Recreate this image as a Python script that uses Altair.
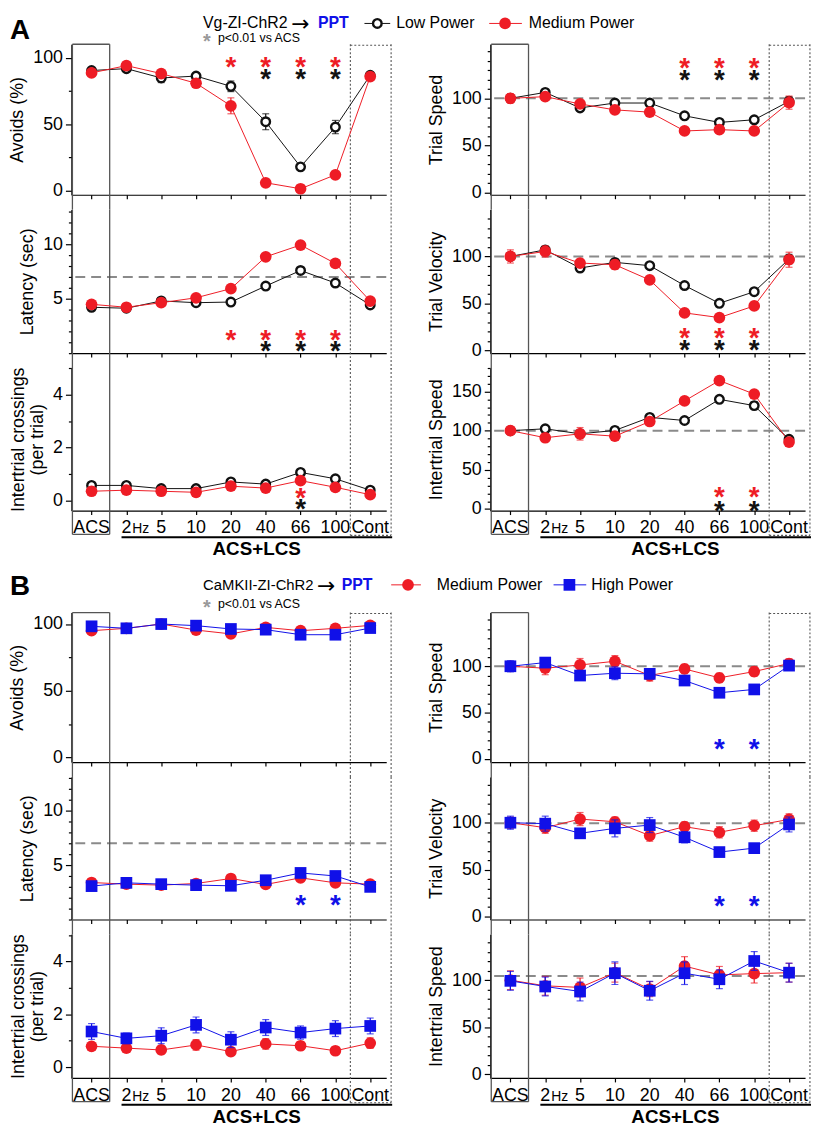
import json
import altair as alt
import pandas as pd

FONT = "Liberation Sans"
RED = "#ee1c25"
BLUE = "#1010e8"
BLACK = "#111111"
DASH_GRAY = "#8a8a8a"
BOX_GRAY = "#555555"

# ---------------- categories ----------------
CATS = ["ACS", "2Hz", "5", "10", "20", "40", "66", "100", "Cont"]
XLABELS = ["ACS", "2", "5", "10", "20", "40", "66", "100", "Cont"]
IDX = list(range(len(CATS)))

# ---------------- Panel A : Vg-ZI-ChR2 -> PPT ----------------
A_avoid_low = [90.6, 92.0, 85.0, 86.4, 78.7, 52.0, 18.0, 48.0, 87.0]
A_avoid_low_err = [2, 2, 3.5, 2, 4, 6, 1.5, 5, 2]
A_avoid_med = [88.8, 94.3, 88.3, 81.0, 64.0, 6.0, 1.5, 12.0, 86.0]
A_avoid_med_err = [2, 2, 2, 2, 6, 1.5, 1, 2, 2]

A_lat_low = [4.22, 4.13, 4.80, 4.64, 4.70, 6.17, 7.60, 6.45, 4.43]
A_lat_low_err = [0.2, 0.2, 0.2, 0.2, 0.2, 0.2, 0.25, 0.2, 0.2]
A_lat_med = [4.49, 4.22, 4.64, 5.09, 5.93, 8.86, 9.94, 8.25, 4.79]
A_lat_med_err = [0.3, 0.2, 0.2, 0.2, 0.2, 0.2, 0.2, 0.2, 0.3]

A_cross_low = [0.57, 0.57, 0.45, 0.45, 0.70, 0.62, 1.06, 0.82, 0.39]
A_cross_low_err = [0.08, 0.08, 0.08, 0.08, 0.08, 0.08, 0.1, 0.08, 0.08]
A_cross_med = [0.35, 0.39, 0.35, 0.31, 0.54, 0.47, 0.75, 0.50, 0.22]
A_cross_med_err = [0.08, 0.08, 0.08, 0.08, 0.08, 0.08, 0.1, 0.08, 0.08]

A_tspeed_low = [100, 106.3, 89.8, 95.0, 95.0, 81.4, 74.4, 77.2, 96.8]
A_tspeed_low_err = [3, 3, 2, 2, 2, 3, 2, 3, 5]
A_tspeed_med = [100, 101.8, 94.0, 87.7, 85.3, 65.3, 66.7, 65.3, 95.4]
A_tspeed_med_err = [5, 4, 3, 3, 2, 2, 2, 2, 7]

A_tvel_low = [100, 107.0, 87.7, 93.7, 90.2, 69.1, 50.2, 62.5, 97.2]
A_tvel_low_err = [3, 3, 3, 3, 2, 2, 3, 2, 5]
A_tvel_med = [100, 105.3, 93.0, 91.2, 75.0, 40.0, 35.0, 47.4, 96.5]
A_tvel_med_err = [7, 6, 4, 5, 3, 2, 2, 2, 8]

A_ispeed_low = [100, 102.4, 96.0, 100.3, 117.0, 113.0, 140.0, 132.0, 89.0]
A_ispeed_low_err = [2, 3, 5, 4, 4, 3, 3, 5, 3]
A_ispeed_med = [100, 91.0, 96.0, 93.0, 111.7, 138.0, 164.0, 146.7, 85.5]
A_ispeed_med_err = [3, 3, 8, 3, 3, 3, 3, 4, 3]

# significance asterisks (category index, height in data units)
A_avoid_star_med, A_avoid_star_med_y = [4, 5, 6, 7], 97
A_avoid_star_low, A_avoid_star_low_y = [5, 6, 7], 87.6
A_lat_star_med, A_lat_star_med_y = [4, 5, 6, 7], 1.63
A_lat_star_low, A_lat_star_low_y = [5, 6, 7], 0.6
A_cross_star_med, A_cross_star_med_y = [6], 0.29
A_cross_star_low, A_cross_star_low_y = [6], -0.15
A_tspeed_star_med, A_tspeed_star_med_y = [5, 6, 7], 137
A_tspeed_star_low, A_tspeed_star_low_y = [5, 6, 7], 124.6
A_tvel_star_med, A_tvel_star_med_y = [5, 6, 7], 18.2
A_tvel_star_low, A_tvel_star_low_y = [5, 6, 7], 5.3
A_ispeed_star_med, A_ispeed_star_med_y = [6, 7], 21
A_ispeed_star_low, A_ispeed_star_low_y = [6, 7], 4.2

# ---------------- Panel B : CaMKII-ZI-ChR2 -> PPT ----------------
B_avoid_med = [95.0, 96.8, 100.0, 95.5, 92.6, 97.5, 95.0, 96.8, 99.0]
B_avoid_med_err = [2, 2, 1, 2, 2, 2, 2, 2, 1]
B_avoid_high = [98.3, 96.8, 100.0, 98.8, 96.3, 95.8, 92.0, 92.0, 97.0]
B_avoid_high_err = [2, 2, 1, 2, 2, 2, 2, 2, 2]

B_lat_med = [3.40, 3.25, 3.16, 3.31, 3.77, 3.22, 3.83, 3.37, 3.25]
B_lat_med_err = [0.2, 0.2, 0.2, 0.2, 0.2, 0.2, 0.2, 0.2, 0.2]
B_lat_high = [3.07, 3.37, 3.25, 3.16, 3.10, 3.61, 4.28, 4.00, 3.00]
B_lat_high_err = [0.2, 0.2, 0.2, 0.2, 0.2, 0.2, 0.2, 0.2, 0.2]

B_cross_med = [0.79, 0.72, 0.65, 0.84, 0.59, 0.88, 0.81, 0.62, 0.91]
B_cross_med_err = [0.15, 0.15, 0.15, 0.2, 0.15, 0.2, 0.15, 0.1, 0.2]
B_cross_high = [1.35, 1.09, 1.19, 1.60, 1.04, 1.50, 1.31, 1.46, 1.56]
B_cross_high_err = [0.3, 0.2, 0.3, 0.3, 0.3, 0.3, 0.25, 0.3, 0.3]

B_tspeed_med = [100.0, 97.9, 101.4, 105.4, 90.0, 97.1, 87.5, 94.3, 103.0]
B_tspeed_med_err = [5, 7, 7, 6, 6, 5, 5, 5, 5]
B_tspeed_high = [100.0, 104.0, 90.0, 92.5, 91.8, 84.6, 71.4, 75.0, 100.7]
B_tspeed_high_err = [6, 5, 5, 7, 5, 5, 3, 3, 5]

B_tvel_med = [100.0, 94.7, 103.9, 101.0, 86.3, 95.8, 89.8, 96.8, 103.5]
B_tvel_med_err = [6, 6, 7, 5, 6, 5, 6, 6, 6]
B_tvel_high = [100.0, 99.0, 88.7, 94.0, 97.5, 84.5, 68.7, 72.9, 98.2]
B_tvel_high_err = [7, 8, 4, 9, 8, 6, 3, 3, 8]

B_ispeed_med = [100.0, 94.0, 92.3, 108.0, 90.5, 115.0, 105.6, 107.0, 108.0]
B_ispeed_med_err = [10, 10, 10, 10, 8, 10, 9, 10, 10]
B_ispeed_high = [99.3, 93.3, 88.0, 107.4, 88.8, 107.4, 101.0, 120.4, 108.0]
B_ispeed_high_err = [10, 10, 10, 12, 10, 12, 10, 10, 10]

B_tspeed_star_high, B_tspeed_star_high_y = [6, 7], 15.7
B_lat_star_high, B_lat_star_high_y = [6, 7], 1.75
B_tvel_star_high, B_tvel_star_high_y = [6, 7], 16.5

# ---------------- layout constants ----------------
W = 318
XDOM = [-0.58, 8.46]
ACS_BOX = [-0.55, 0.52]
CONT_BOX = [7.43, 8.60]
GAP = 15
SPACER = 73
COLSP = 105


def x_enc(field):
    return alt.X(field, type="quantitative",
                 scale=alt.Scale(domain=XDOM, nice=False, zero=False),
                 axis=alt.Axis(values=IDX, labels=False, title=None, grid=False,
                               tickSize=4, tickWidth=1.2, domainWidth=1.2,
                               tickColor="black", domainColor="black"))


def y_enc(field, p):
    ticks = sorted(set(p["major"]) | set(p["minor"]))
    test = "indexof(%s, datum.value) >= 0" % json.dumps(p["major"])
    return alt.Y(field, type="quantitative",
                 scale=alt.Scale(domain=p["dom"], nice=False, zero=False),
                 axis=alt.Axis(values=ticks, title=p["title"], grid=False,
                               labelExpr="%s ? datum.label : ''" % test,
                               tickSize={"condition": {"test": test, "value": 6}, "value": 3},
                               tickWidth=1.2, domainWidth=1.2, labelPadding=3,
                               titlePadding=6, labelOverlap=False, labelFlush=False,
                               titleLineHeight=19, tickColor="black", domainColor="black"))


def one(**cols):
    return pd.DataFrame({k: [v] for k, v in cols.items()})


def point_mark(kind):
    if kind == "open":
        return dict(shape="circle", filled=True, fill="white", stroke=BLACK,
                    strokeWidth=2.4, size=75, opacity=1)
    if kind == "red":
        return dict(shape="circle", filled=True, color=RED, size=140, opacity=1)
    return dict(shape="square", filled=True, color=BLUE, size=140, opacity=1)


def panel(p, h, pos, series, header=None):
    layers = []
    if p.get("dash") is not None:
        layers.append(alt.Chart(one(v=p["dash"])).mark_rule(
            color=DASH_GRAY, strokeDash=[10, 6], strokeWidth=2).encode(y=y_enc("v", p)))
    ybot = h + 24 if pos == "bot" else h + GAP
    layers.append(alt.Chart(pd.DataFrame({"x": ACS_BOX})).mark_rule(
        color=BOX_GRAY, strokeWidth=1.3).encode(
        x=x_enc("x"), y=alt.value(0), y2=alt.value(ybot)))
    layers.append(alt.Chart(pd.DataFrame({"x": CONT_BOX})).mark_rule(
        color=BOX_GRAY, strokeWidth=1.1, strokeDash=[2, 2]).encode(
        x=x_enc("x"), y=alt.value(0), y2=alt.value(ybot + 1)))
    edges = []
    if pos == "top":
        edges.append(0)
    if pos == "bot":
        edges.append(h + 24)
    for ey in edges:
        layers.append(alt.Chart(one(x=ACS_BOX[0], x2=ACS_BOX[1])).mark_rule(
            color=BOX_GRAY, strokeWidth=1.3).encode(
            x=x_enc("x"), x2=alt.X2("x2"), y=alt.value(ey)))
        layers.append(alt.Chart(one(x=CONT_BOX[0], x2=CONT_BOX[1])).mark_rule(
            color=BOX_GRAY, strokeWidth=1.1, strokeDash=[2, 2]).encode(
            x=x_enc("x"), x2=alt.X2("x2"), y=alt.value(ey + 1)))

    for s in series:
        df = pd.DataFrame({"i": IDX, "v": s["v"]})
        layers.append(alt.Chart(df).mark_line(color=s["color"], strokeWidth=1).encode(
            x=x_enc("i"), y=y_enc("v", p)))
    for s in series:
        df = pd.DataFrame({"i": IDX, "v": s["v"],
                           "lo": [a - b for a, b in zip(s["v"], s["e"])],
                           "hi": [a + b for a, b in zip(s["v"], s["e"])]})
        layers.append(alt.Chart(df).mark_rule(color=s["color"], strokeWidth=1.2).encode(
            x=x_enc("i"), y=y_enc("lo", p), y2=alt.Y2("hi")))
        for f in ("lo", "hi"):
            layers.append(alt.Chart(df).mark_tick(
                orient="horizontal", color=s["color"], size=7, thickness=1.2).encode(
                x=x_enc("i"), y=y_enc(f, p)))
        layers.append(alt.Chart(df).mark_point(**point_mark(s["kind"])).encode(
            x=x_enc("i"), y=y_enc("v", p)))

    for idxs, yv, color in p.get("stars", []):
        df = pd.DataFrame({"i": idxs, "y": [yv] * len(idxs), "s": ["*"] * len(idxs)})
        layers.append(alt.Chart(df).mark_text(
            font=FONT, fontSize=28, fontWeight="bold", color=color,
            baseline="middle", dy=6).encode(x=x_enc("i"), y=y_enc("y", p), text="s:N"))

    if pos == "bot":
        df = pd.DataFrame({"i": IDX, "lab": XLABELS})
        layers.append(alt.Chart(df).mark_text(
            font=FONT, fontSize=18, color="black", baseline="alphabetic").encode(
            x=x_enc("i"), y=alt.value(h + 23), text="lab:N"))
        layers.append(alt.Chart(one(i=1, t="Hz")).mark_text(
            font=FONT, fontSize=14, color="black", baseline="alphabetic",
            align="left", dx=6).encode(x=x_enc("i"), y=alt.value(h + 23), text="t:N"))
        layers.append(alt.Chart(one(x=0.86, x2=8.63)).mark_rule(
            color="black", strokeWidth=2).encode(
            x=x_enc("x"), x2=alt.X2("x2"), y=alt.value(h + 27)))
        layers.append(alt.Chart(one(i=4.74, t="ACS+LCS")).mark_text(
            font=FONT, fontSize=19, fontWeight="bold", color="black",
            baseline="alphabetic").encode(x=x_enc("i"), y=alt.value(h + 45), text="t:N"))

    if header:
        layers.extend(header)
    return alt.layer(*layers).properties(width=W, height=h)


def txt(t, x, y, size=16, color="black", weight="normal", baseline="middle", font=FONT):
    return alt.Chart(one(t=t)).mark_text(
        font=font, fontSize=size, color=color, fontWeight=weight, align="left",
        baseline=baseline).encode(x=alt.value(x), y=alt.value(y), text="t:N")


def leg_line(x1, x2, y, color):
    return alt.Chart(one(a=0)).mark_rule(color=color, strokeWidth=1).encode(
        x=alt.value(x1), x2=alt.value(x2), y=alt.value(y))


def leg_point(x, y, kind):
    return alt.Chart(one(a=0)).mark_point(**point_mark(kind)).encode(
        x=alt.value(x), y=alt.value(y))


def section_header(letter, letter_y, construct, csize, arrow_x, ppt_x, row_y, p_y, legend):
    items = [txt(letter, -62, letter_y, size=28, weight="bold", baseline="alphabetic"),
             txt(construct, 133, row_y, size=csize),
             txt("\u2192", arrow_x, row_y + 1, size=22, font="DejaVu Sans"),
             txt("PPT", ppt_x, row_y, color=BLUE, weight="bold"),
             txt("*", 133, p_y + 4, size=20, color="#999999", weight="bold"),
             txt("p<0.01 vs ACS", 148, p_y, size=12.5)]
    for (x1, x2, xc, xt, color, kind, label) in legend:
        items += [leg_line(x1, x2, row_y, color), leg_point(xc, row_y, kind),
                  txt(label, xt, row_y)]
    return items


# ---------------- panel configs ----------------
LOW = lambda v, e: dict(v=v, e=e, color=BLACK, kind="open")
MED = lambda v, e: dict(v=v, e=e, color=RED, kind="red")
HIGH = lambda v, e: dict(v=v, e=e, color=BLUE, kind="blue")
CROSS_TITLE = ["Intertrial crossings", "(per trial)"]

pA1L = dict(dom=[-3, 110.4], major=[0, 50, 100], minor=[25, 75], title="Avoids (%)",
            stars=[(A_avoid_star_med, A_avoid_star_med_y, RED),
                   (A_avoid_star_low, A_avoid_star_low_y, BLACK)])
pA1R = dict(dom=[-2.5, 157.5], major=[0, 50, 100], minor=list(range(10, 151, 10)),
            title="Trial Speed", dash=100,
            stars=[(A_tspeed_star_med, A_tspeed_star_med_y, RED),
                   (A_tspeed_star_low, A_tspeed_star_low_y, BLACK)])
pA2L = dict(dom=[0, 13.2], major=[5, 10], minor=list(range(0, 14)), title="Latency (sec)",
            dash=7, stars=[(A_lat_star_med, A_lat_star_med_y, RED),
                           (A_lat_star_low, A_lat_star_low_y, BLACK)])
pA2R = dict(dom=[-2.8, 149.8], major=[0, 50, 100], minor=list(range(10, 141, 10)),
            title="Trial Velocity", dash=100,
            stars=[(A_tvel_star_med, A_tvel_star_med_y, RED),
                   (A_tvel_star_low, A_tvel_star_low_y, BLACK)])
pA3L = dict(dom=[-0.38, 5.0], major=[0, 2, 4], minor=[1, 3, 5], title=CROSS_TITLE,
            stars=[(A_cross_star_med, A_cross_star_med_y, RED),
                   (A_cross_star_low, A_cross_star_low_y, BLACK)])
pA3R = dict(dom=[-2, 180], major=[0, 50, 100, 150], minor=list(range(10, 181, 10)),
            title="Intertrial Speed", dash=100,
            stars=[(A_ispeed_star_med, A_ispeed_star_med_y, RED),
                   (A_ispeed_star_low, A_ispeed_star_low_y, BLACK)])

pB1L = dict(dom=[-3.5, 108.6], major=[0, 50, 100], minor=[25, 75], title="Avoids (%)")
pB1R = dict(dom=[-3.5, 158], major=[0, 50, 100], minor=list(range(10, 151, 10)),
            title="Trial Speed", dash=100,
            stars=[(B_tspeed_star_high, B_tspeed_star_high_y, BLUE)])
pB2L = dict(dom=[0, 13.1], major=[5, 10], minor=list(range(0, 14)), title="Latency (sec)",
            dash=7, stars=[(B_lat_star_high, B_lat_star_high_y, BLUE)])
pB2R = dict(dom=[-3.2, 148.8], major=[0, 50, 100], minor=list(range(10, 141, 10)),
            title="Trial Velocity", dash=99.5,
            stars=[(B_tvel_star_high, B_tvel_star_high_y, BLUE)])
pB3L = dict(dom=[-0.41, 5.03], major=[0, 2, 4], minor=[1, 3, 5], title=CROSS_TITLE)
pB3R = dict(dom=[-3.9, 148.7], major=[0, 50, 100], minor=list(range(10, 141, 10)),
            title="Intertrial Speed", dash=104.5)

headA = section_header("A", -5, "Vg-ZI-ChR2", 16, 222, 249, -21, -6,
                       [(296, 322, 309, 328, BLACK, "open", "Low Power"),
                        (422, 455, 438, 462, RED, "red", "Medium Power")])
headB = section_header("B", -18, "CaMKII-ZI-ChR2", 15, 248, 273, -28, -9,
                       [(323, 353, 340, 369, RED, "red", "Medium Power"),
                        (487, 520, 503, 525, BLUE, "blue", "High Power")])


def spacer():
    return alt.Chart(one(a=0)).mark_point(opacity=0).encode(
        x=alt.value(0), y=alt.value(0)).properties(width=W, height=SPACER)


cells = [
    panel(pA1L, 152, "top", [LOW(A_avoid_low, A_avoid_low_err), MED(A_avoid_med, A_avoid_med_err)], headA),
    panel(pA1R, 152, "top", [LOW(A_tspeed_low, A_tspeed_low_err), MED(A_tspeed_med, A_tspeed_med_err)]),
    panel(pA2L, 145, "mid", [LOW(A_lat_low, A_lat_low_err), MED(A_lat_med, A_lat_med_err)]),
    panel(pA2R, 145, "mid", [LOW(A_tvel_low, A_tvel_low_err), MED(A_tvel_med, A_tvel_med_err)]),
    panel(pA3L, 144, "bot", [LOW(A_cross_low, A_cross_low_err), MED(A_cross_med, A_cross_med_err)]),
    panel(pA3R, 144, "bot", [LOW(A_ispeed_low, A_ispeed_low_err), MED(A_ispeed_med, A_ispeed_med_err)]),
    spacer(), spacer(),
    panel(pB1L, 151, "top", [MED(B_avoid_med, B_avoid_med_err), HIGH(B_avoid_high, B_avoid_high_err)], headB),
    panel(pB1R, 151, "top", [MED(B_tspeed_med, B_tspeed_med_err), HIGH(B_tspeed_high, B_tspeed_high_err)]),
    panel(pB2L, 144, "mid", [MED(B_lat_med, B_lat_med_err), HIGH(B_lat_high, B_lat_high_err)]),
    panel(pB2R, 144, "mid", [MED(B_tvel_med, B_tvel_med_err), HIGH(B_tvel_high, B_tvel_high_err)]),
    panel(pB3L, 145, "bot", [MED(B_cross_med, B_cross_med_err), HIGH(B_cross_high, B_cross_high_err)]),
    panel(pB3R, 145, "bot", [MED(B_ispeed_med, B_ispeed_med_err), HIGH(B_ispeed_high, B_ispeed_high_err)]),
]

chart = alt.concat(*cells, columns=2, spacing={"row": GAP, "column": COLSP},
                   bounds="flush").properties(
    padding={"left": 0, "top": 0, "right": 0, "bottom": 0}
).configure_view(stroke=None).configure_axis(
    labelFont=FONT, titleFont=FONT, labelFontSize=18, titleFontSize=18,
    titleFontWeight="normal", labelColor="black", titleColor="black")

chart.save("out.html", embed_options={"renderer": "svg", "actions": False})
